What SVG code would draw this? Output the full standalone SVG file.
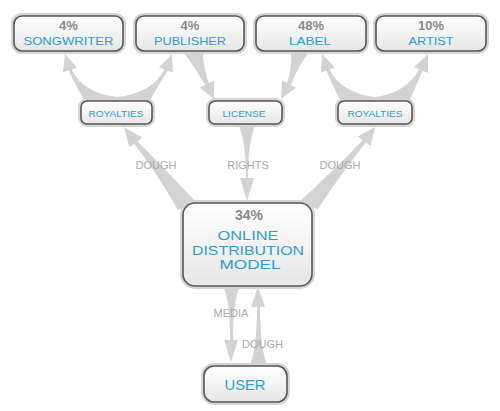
<svg xmlns="http://www.w3.org/2000/svg" width="500" height="411" viewBox="0 0 500 411">
<defs>
<linearGradient id="g" x1="0" y1="0" x2="0" y2="1">
<stop offset="0" stop-color="#ffffff"/>
<stop offset="1" stop-color="#e6e6e6"/>
</linearGradient>
<style>
.halo{fill:none;stroke:#d4d4d4;stroke-width:6}
.box{fill:url(#g);stroke:#575757;stroke-width:1.6}
.pct{font-family:"Liberation Sans",Arial,sans-serif;font-weight:bold;fill:#8a8a8a;text-anchor:middle}
.name{font-family:"Liberation Sans",Arial,sans-serif;fill:#2f9ccf;text-anchor:middle}
.elab{font-family:"Liberation Sans",Arial,sans-serif;font-size:11px;fill:#aaaaaa;text-anchor:middle}
.conn path{fill:#d3d3d3}
</style>
</defs>
<rect width="500" height="411" fill="#ffffff"/>
<g id="connectors" class="conn">
<path d="M84 100 Q77 88 68.6 70.6 L63 72.2 L65 54 L77 67.8 L71.6 69.4 Q83 93 117 97 L117 101 L84 101 Z"/>
<path d="M150 100 Q157 88 167.5 70.7 L173 72.6 L172 54 L159 67.4 L164.3 69.3 Q153 93 117 97 L117 101 L150 101 Z"/>
<path d="M340 100 Q334 88 326.5 70.7 L321 72.6 L322 54 L335 67.4 L329.6 69.3 Q341 93 375 97 L375 101 L340 101 Z"/>
<path d="M410 100 Q415 88 422.6 70.8 L428 73 L428 54 L414 67 L419.3 69.2 Q406 93 375 97 L375 101 L410 101 Z"/>
<path d="M183 51 Q195 68 205.2 84.8 L199.7 87.4 L214 99 L214.3 80.6 L208.8 83.2 Q203 66 203 51 Z"/>
<path d="M291 51 Q292 68 287.2 83.1 L282 80.2 L281 99 L296 87.8 L290.8 84.9 Q298 66 310 51 Z"/>
<path d="M238 124 Q246 140 246 178 L240 178 L247 201 L254 178 L248 178 Q248 140 256 124 Z"/>
<path d="M124 127 L129.4 147.2 L134.2 143.6 Q160 178 178 210 L197 203 Q168 172 137.4 141.2 L142.2 137.6 Z"/>
<path d="M375 127 L357.8 136.6 L362.6 140.2 Q332 172 298 203 L318 209 Q338 178 365.8 142.6 L370.6 146.2 Z"/>
<path d="M223 286 Q230 300 230 340 L224 340 L231 362 L238 340 L233 340 Q233 300 240 286 Z"/>
<path d="M249 367 Q257 350 257 307 L251 307 L258 287 L265 307 L260 307 Q260 350 268 367 Z"/>
</g>
<g id="edge-labels">
<text class="elab" x="156" y="169">DOUGH</text>
<text class="elab" x="248" y="169">RIGHTS</text>
<text class="elab" x="340" y="169">DOUGH</text>
<text class="elab" x="231" y="317">MEDIA</text>
<text class="elab" x="262.5" y="348">DOUGH</text>
</g>
<g id="songwriter">
<rect class="halo" x="14" y="16" width="109" height="35" rx="8"/>
<rect class="box" x="14" y="16" width="109" height="35" rx="8"/>
<text class="pct" x="68.5" y="30" font-size="13">4%</text>
<text class="name" x="68.5" y="45" font-size="11.5" textLength="90" lengthAdjust="spacingAndGlyphs">SONGWRITER</text>
</g>
<g id="publisher">
<rect class="halo" x="136" y="16" width="108" height="35" rx="8"/>
<rect class="box" x="136" y="16" width="108" height="35" rx="8"/>
<text class="pct" x="190" y="30" font-size="13">4%</text>
<text class="name" x="190" y="45" font-size="11.5" textLength="72" lengthAdjust="spacingAndGlyphs">PUBLISHER</text>
</g>
<g id="label">
<rect class="halo" x="256" y="16" width="110" height="35" rx="8"/>
<rect class="box" x="256" y="16" width="110" height="35" rx="8"/>
<text class="pct" x="311" y="30" font-size="13">48%</text>
<text class="name" x="310" y="45" font-size="11.5" textLength="42" lengthAdjust="spacingAndGlyphs">LABEL</text>
</g>
<g id="artist">
<rect class="halo" x="376" y="16" width="110" height="35" rx="8"/>
<rect class="box" x="376" y="16" width="110" height="35" rx="8"/>
<text class="pct" x="431" y="30" font-size="13">10%</text>
<text class="name" x="431" y="45" font-size="11.5" textLength="45" lengthAdjust="spacingAndGlyphs">ARTIST</text>
</g>
<g id="royalties-left">
<rect class="halo" x="81" y="101" width="71" height="23" rx="6"/>
<rect class="box" x="81" y="101" width="71" height="23" rx="6"/>
<text class="name" x="116" y="117" font-size="9" textLength="55" lengthAdjust="spacingAndGlyphs">ROYALTIES</text>
</g>
<g id="license">
<rect class="halo" x="209" y="101" width="73" height="23" rx="6"/>
<rect class="box" x="209" y="101" width="73" height="23" rx="6"/>
<text class="name" x="244" y="117" font-size="9" textLength="43" lengthAdjust="spacingAndGlyphs">LICENSE</text>
</g>
<g id="royalties-right">
<rect class="halo" x="338" y="101" width="74" height="23" rx="6"/>
<rect class="box" x="338" y="101" width="74" height="23" rx="6"/>
<text class="name" x="375" y="117" font-size="9" textLength="55" lengthAdjust="spacingAndGlyphs">ROYALTIES</text>
</g>
<g id="online-distribution-model">
<rect class="halo" x="183" y="203" width="129" height="83" rx="12"/>
<rect class="box" x="183" y="203" width="129" height="83" rx="12"/>
<text class="pct" x="249" y="220" font-size="14">34%</text>
<text class="name" x="248" y="240" font-size="13.5" textLength="61" lengthAdjust="spacingAndGlyphs">ONLINE</text>
<text class="name" x="248" y="255" font-size="13.5" textLength="112" lengthAdjust="spacingAndGlyphs">DISTRIBUTION</text>
<text class="name" x="250" y="269" font-size="13.5" textLength="61" lengthAdjust="spacingAndGlyphs">MODEL</text>
</g>
<g id="user">
<rect class="halo" x="204" y="366" width="83" height="36" rx="10"/>
<rect class="box" x="204" y="366" width="83" height="36" rx="10"/>
<text class="name" x="245" y="390" font-size="14" textLength="41" lengthAdjust="spacingAndGlyphs">USER</text>
</g>
</svg>
